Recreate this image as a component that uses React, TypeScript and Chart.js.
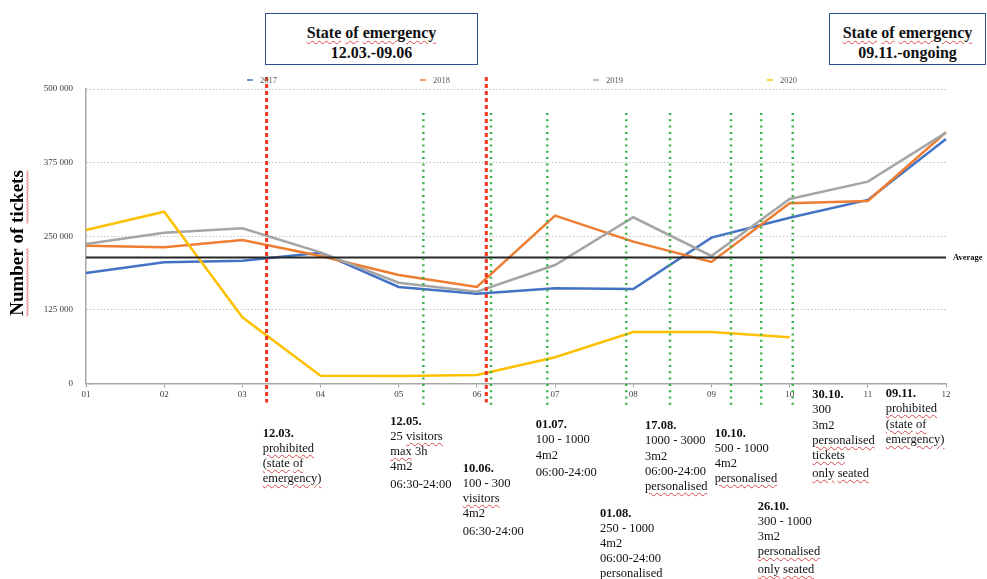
import React, { useEffect, useRef } from 'react';
import { Chart, registerables } from 'chart.js';

Chart.register(...registerables);

// ---------- DATA ----------
const MONTHS = ['01', '02', '03', '04', '05', '06', '07', '08', '09', '10', '11', '12'];
const SERIES_2017 = [187600, 205800, 208500, 222100, 163900, 152500, 161600, 160500, 247600, 281500, 311600, 415200];
const SERIES_2018 = [234000, 231200, 243700, 216500, 184200, 163900, 285000, 240800, 206300, 306000, 309900, 426500];
const SERIES_2019 = [236900, 256000, 263500, 222700, 171200, 155900, 201200, 282200, 216500, 313300, 342700, 425900];
const SERIES_2020 = [260600, 291700, 112400, 13250, 12700, 14400, 44500, 87400, 87400, 78400, null, null];
const AVERAGE_VALUE = 214000;
const AVERAGE_SERIES = MONTHS.map(() => AVERAGE_VALUE);
const SERIES_LABELS = ['2017', '2018', '2019', '2020'];
const Y_MAX = 500000;
const Y_STEP = 125000;
// date markers, expressed in month-index units (0 = "01")
const EMERGENCY_MARKERS = [2.31, 5.12];
const MEASURE_MARKERS = [4.315, 5.18, 5.9, 6.91, 7.47, 8.25, 8.636, 9.04];

const BOX_TEXTS = [
  ['State of emergency', '12.03.-09.06'],
  ['State of emergency', '09.11.-ongoing'],
];

const NOTE_TEXTS = [
  ['12.03.', 'prohibited', '(state of', 'emergency)'],
  ['12.05.', '25 visitors', 'max 3h', '4m2', '06:30-24:00'],
  ['10.06.', '100 - 300', 'visitors', '4m2', '06:30-24:00'],
  ['01.07.', '100 - 1000', '4m2', '06:00-24:00'],
  ['01.08.', '250 - 1000', '4m2', '06:00-24:00', 'personalised'],
  ['17.08.', '1000 - 3000', '3m2', '06:00-24:00', 'personalised'],
  ['10.10.', '500 - 1000', '4m2', 'personalised'],
  ['26.10.', '300 - 1000', '3m2', 'personalised', 'only seated'],
  ['30.10.', '300', '3m2', 'personalised', 'tickets', 'only seated'],
  ['09.11.', 'prohibited', '(state of', 'emergency)'],
];

// ---------- LAYOUT / STYLE ----------
const COLORS = ['#4472C4', '#ED7D31', '#A5A5A5', '#FFC000'];
const AVG_COLOR = '#262626';
const RED = '#f2361d';
const GREEN = '#3db34a';
const FONT = '"Liberation Serif", "Times New Roman", serif';
const LEGEND_X = [247, 420, 593, 767];
const BOX_LAYOUT = [
  { left: 265, top: 13, width: 213, height: 52 },
  { left: 829, top: 13, width: 157, height: 52 },
];
const NOTE_LAYOUT = [
  { left: 262.7, top: 425.7, gapAt: -1 },
  { left: 390.3, top: 414.1, gapAt: 4 },
  { left: 462.7, top: 460.7, gapAt: 4 },
  { left: 535.7, top: 417.4, gapAt: 3 },
  { left: 600, top: 505.9, gapAt: -1 },
  { left: 645, top: 418.4, gapAt: -1 },
  { left: 714.7, top: 425.7, gapAt: -1 },
  { left: 757.7, top: 499.1, gapAt: 4 },
  { left: 812.3, top: 387.4, gapAt: 5 },
  { left: 885.7, top: 386.4, gapAt: -1 },
];
const UNDERLINED = new Set(['prohibited', '(state', 'of', 'emergency)', 'visitors', 'max', 'personalised', 'tickets', 'only', 'seated', 'State', 'emergency']);

const fmt = (v: number) => String(v).replace(/\B(?=(\d{3})+(?!\d))/g, ' ');

function wavy(ctx: CanvasRenderingContext2D, x0: number, x1: number, y: number) {
  ctx.beginPath();
  let up = true;
  ctx.moveTo(x0, y);
  for (let x = x0; x <= x1; x += 1.5) {
    ctx.lineTo(x, y + (up ? -0.9 : 0.9));
    up = !up;
  }
  ctx.stroke();
}

const overlayPlugin = {
  id: 'overlays',
  afterDatasetsDraw(chart: any) {
    const { ctx, chartArea, scales } = chart;
    const x = scales.x;
    ctx.save();
    // green dotted measure lines
    ctx.strokeStyle = GREEN;
    ctx.lineWidth = 2.5;
    ctx.setLineDash([2, 4.3]);
    for (const m of MEASURE_MARKERS) {
      const px = x.getPixelForValue(m);
      ctx.beginPath();
      ctx.moveTo(px, chartArea.top + 24);
      ctx.lineTo(px, chartArea.bottom + 22);
      ctx.stroke();
    }
    // red dashed emergency lines
    ctx.strokeStyle = RED;
    ctx.lineWidth = 3;
    ctx.setLineDash([4, 3]);
    for (const m of EMERGENCY_MARKERS) {
      const px = x.getPixelForValue(m);
      ctx.beginPath();
      ctx.moveTo(px, chartArea.top - 12);
      ctx.lineTo(px, chartArea.bottom + 19);
      ctx.stroke();
    }
    ctx.restore();
  },
  afterDraw(chart: any) {
    const { ctx, chartArea, scales } = chart;
    ctx.save();
    // Average label
    ctx.fillStyle = '#111';
    ctx.font = `bold 8.5px ${FONT}`;
    ctx.textBaseline = 'middle';
    ctx.textAlign = 'left';
    ctx.fillText('Average', chartArea.right + 7, scales.y.getPixelForValue(AVERAGE_VALUE) + 0.5);
    // legend
    ctx.font = `8.5px ${FONT}`;
    const ly = chartArea.top - 9;
    SERIES_LABELS.forEach((lab, i) => {
      const lx = LEGEND_X[i];
      ctx.strokeStyle = COLORS[i];
      ctx.globalAlpha = 0.75;
      ctx.lineWidth = 2;
      ctx.beginPath();
      ctx.moveTo(lx, ly);
      ctx.lineTo(lx + 6, ly);
      ctx.stroke();
      ctx.globalAlpha = 1;
      ctx.fillStyle = '#555';
      ctx.fillText(lab, lx + 13, ly + 0.5);
    });
    // y title
    const title = 'Number of tickets';
    ctx.translate(18, 243);
    ctx.rotate(-Math.PI / 2);
    ctx.font = `bold 19px ${FONT}`;
    ctx.fillStyle = '#000';
    ctx.textAlign = 'center';
    ctx.textBaseline = 'middle';
    ctx.fillText(title, 0, 0);
    const W = ctx.measureText(title).width;
    const wNum = ctx.measureText('Number').width;
    const wTick = ctx.measureText('tickets').width;
    ctx.strokeStyle = '#e04848';
    ctx.lineWidth = 0.8;
    wavy(ctx, -W / 2, -W / 2 + wNum, 9.5);
    wavy(ctx, W / 2 - wTick, W / 2, 9.5);
    ctx.restore();
  },
};

function NoteLine({ text }: { text: string }) {
  const words = text.split(' ');
  return (
    <>
      {words.map((w, i) => (
        <React.Fragment key={i}>
          {i > 0 ? ' ' : ''}
          <span
            style={
              UNDERLINED.has(w)
                ? {
                    textDecorationLine: 'underline',
                    textDecorationStyle: 'wavy',
                    textDecorationColor: '#e04848',
                    textDecorationThickness: '1px',
                    textUnderlineOffset: '2px',
                  }
                : undefined
            }
          >
            {w}
          </span>
        </React.Fragment>
      ))}
    </>
  );
}

export default function App() {
  const canvasRef = useRef<HTMLCanvasElement>(null);

  useEffect(() => {
    const datasets: any[] = [SERIES_2017, SERIES_2018, SERIES_2019, SERIES_2020].map((d, i) => ({
      label: SERIES_LABELS[i],
      data: d,
      borderColor: COLORS[i],
      backgroundColor: COLORS[i],
      borderWidth: 2.5,
      pointRadius: 0,
      tension: 0,
      spanGaps: false,
      order: 4 - i,
    }));
    datasets.push({
      label: 'Average',
      data: AVERAGE_SERIES,
      borderColor: AVG_COLOR,
      borderWidth: 2,
      pointRadius: 0,
      order: 0,
    });

    const chart = new Chart(canvasRef.current as HTMLCanvasElement, {
      type: 'line',
      data: { labels: MONTHS, datasets },
      options: {
        responsive: false,
        devicePixelRatio: 1,
        animation: false,
        events: [],
        layout: { padding: { top: 89, right: 41, left: 0, bottom: 0 } },
        plugins: { legend: { display: false }, tooltip: { enabled: false } },
        scales: {
          x: {
            type: 'category',
            offset: false,
            grid: { drawOnChartArea: false, drawTicks: true, tickLength: 4, color: '#a6a6a6', lineWidth: 1 },
            border: { display: true, color: '#a6a6a6', width: 1.5 },
            ticks: { font: { family: FONT, size: 9 }, color: '#404040', padding: 2, maxRotation: 0, autoSkip: false },
            afterFit: (s: any) => {
              s.height = 195.5;
            },
          },
          y: {
            min: 0,
            max: Y_MAX,
            grid: { color: '#c4c4c4', lineWidth: 1, drawTicks: false },
            border: { display: true, color: '#a6a6a6', width: 1.5, dash: [1.5, 2] },
            ticks: {
              stepSize: Y_STEP,
              font: { family: FONT, size: 9 },
              color: '#404040',
              padding: 13,
              callback: (v: any) => fmt(Number(v)),
            },
            afterFit: (s: any) => {
              s.width = 86;
            },
          },
        },
      },
      plugins: [overlayPlugin],
    } as any);
    return () => chart.destroy();
  }, []);

  return (
    <div
      style={{
        position: 'absolute',
        left: 0,
        top: 0,
        width: 987,
        height: 579,
        overflow: 'hidden',
        background: '#fff',
        fontFamily: FONT,
        color: '#111',
      }}
    >
      <canvas ref={canvasRef} width={987} height={579} style={{ position: 'absolute', left: 0, top: 0, width: 987, height: 579 }} />
      {BOX_TEXTS.map((lines, i) => (
        <div
          key={'b' + i}
          style={{
            position: 'absolute',
            boxSizing: 'border-box',
            left: BOX_LAYOUT[i].left,
            top: BOX_LAYOUT[i].top,
            width: BOX_LAYOUT[i].width,
            height: BOX_LAYOUT[i].height,
            border: '1.5px solid #2c4f8f',
            background: '#fff',
            textAlign: 'center',
            fontWeight: 'bold',
            fontSize: 16,
            lineHeight: '20px',
            paddingTop: 8.5,
            whiteSpace: 'nowrap',
          }}
        >
          {lines.map((l, j) => (
            <div key={j}>
              <NoteLine text={l} />
            </div>
          ))}
        </div>
      ))}
      {NOTE_TEXTS.map((lines, i) => (
        <div
          key={'n' + i}
          style={{
            position: 'absolute',
            left: NOTE_LAYOUT[i].left,
            top: NOTE_LAYOUT[i].top,
            fontSize: 12.5,
            lineHeight: '15.1px',
            whiteSpace: 'nowrap',
          }}
        >
          {lines.map((l, j) => (
            <div key={j} style={{ fontWeight: j === 0 ? 'bold' : 'normal', marginTop: j === NOTE_LAYOUT[i].gapAt ? 2.8 : 0 }}>
              <NoteLine text={l} />
            </div>
          ))}
        </div>
      ))}
    </div>
  );
}
